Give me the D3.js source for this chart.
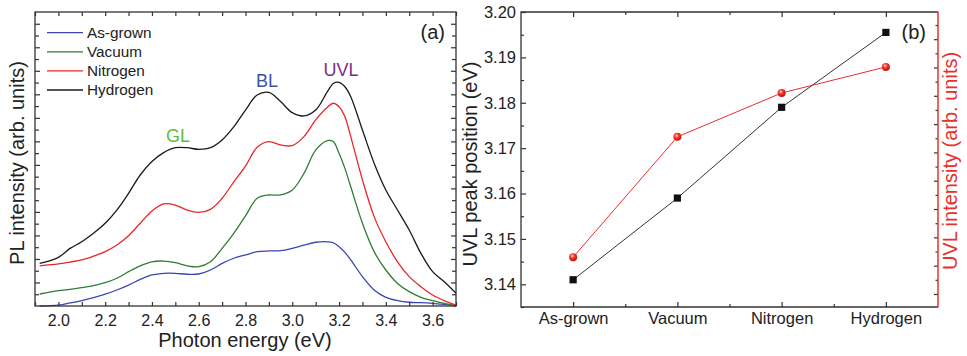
<!DOCTYPE html>
<html>
<head>
<meta charset="utf-8">
<title>PL spectra and UVL peak</title>
<style>
  body { margin: 0; background: #fff; }
  svg, svg text { font-family: "Liberation Sans", Arial, sans-serif; }
  .frame { fill: none; stroke: #333; stroke-width: 1.3px; }
  .axis path { display: none; }
  .axis line { stroke: #333; stroke-width: 1.2px; }
  .axis text { font-size: 16px; fill: #222; font-family: "Liberation Sans", Arial, sans-serif; }
  .axis.b text { font-size: 16.5px; }
  .spec { fill: none; stroke-width: 1.3px; }
</style>
</head>
<body>
<svg id="chart" width="967" height="356"></svg>
<script src="https://d3js.org/d3.v7.min.js"></script>
<script>
// ---- panel (a) data: PL spectra ----
var energy = [1.92, 2.0, 2.05, 2.1, 2.15, 2.2, 2.25, 2.3, 2.35, 2.4, 2.45, 2.5, 2.55, 2.6, 2.65, 2.7, 2.75, 2.8, 2.85, 2.9,
  2.95, 3.0, 3.05, 3.1, 3.15, 3.175, 3.2, 3.225, 3.25, 3.3, 3.35, 3.4, 3.45, 3.5, 3.55, 3.6, 3.65, 3.7];
var asGrown = [0.0, 0.04, 0.13, 0.23, 0.36, 0.50, 0.68, 0.89, 1.13, 1.32, 1.39, 1.39, 1.35, 1.36, 1.53, 1.81, 2.03, 2.17, 2.31, 2.34,
  2.35, 2.45, 2.59, 2.71, 2.73, 2.69, 2.52, 2.28, 1.96, 1.25, 0.68, 0.37, 0.23, 0.16, 0.14, 0.11, 0.07, 0.0];
var vacuum = [0.51, 0.65, 0.71, 0.78, 0.87, 0.99, 1.18, 1.46, 1.71, 1.88, 1.91, 1.84, 1.71, 1.67, 1.88, 2.45, 3.09, 3.83, 4.58, 4.72,
  4.72, 4.93, 5.64, 6.63, 7.03, 6.99, 6.49, 5.85, 5.07, 3.52, 2.31, 1.53, 0.96, 0.61, 0.37, 0.23, 0.11, 0.0];
var nitrogen = [1.71, 1.79, 1.87, 1.96, 2.12, 2.31, 2.59, 2.99, 3.52, 4.04, 4.34, 4.29, 4.08, 3.98, 4.11, 4.58, 5.28, 5.95, 6.75, 6.99,
  6.85, 6.82, 7.20, 7.91, 8.45, 8.62, 8.47, 8.05, 7.20, 5.36, 3.80, 2.73, 1.88, 1.25, 0.82, 0.47, 0.23, 0.04];
var hydrogen = [1.81, 2.07, 2.45, 2.73, 3.09, 3.52, 4.08, 4.79, 5.57, 6.14, 6.52, 6.73, 6.73, 6.66, 6.73, 7.06, 7.62, 8.33, 8.97, 9.08,
  8.69, 8.22, 8.08, 8.33, 9.11, 9.46, 9.51, 9.32, 8.90, 7.48, 6.07, 4.93, 4.08, 3.23, 2.24, 1.46, 1.03, 0.54];
var seriesNames = ["As-grown", "Vacuum", "Nitrogen", "Hydrogen"];
var seriesColors = ["#3b46b0", "#2f7d32", "#e8262b", "#1a1a1a"];
var spectra = [asGrown, vacuum, nitrogen, hydrogen];
var xTicksA = d3.range(19).map(function(i) { return +(1.9 + i * 0.1).toFixed(1); });
var yTicksA = d3.range(1, 25).map(function(i) { return i * 0.5; });

// ---- panel (b) data ----
var categories = ["As-grown", "Vacuum", "Nitrogen", "Hydrogen"];
var peakPos = [3.141, 3.159, 3.179, 3.1955];
var uvlIntensity = [2.30, 6.55, 8.10, 9.02];
var yTicksB = [3.14, 3.15, 3.16, 3.17, 3.18, 3.19, 3.20];
var yMinorB = [3.135, 3.145, 3.155, 3.165, 3.175, 3.185, 3.195];
var yTicksR = d3.range(2, 22).map(function(i) { return i * 0.5; });

var svg = d3.select("#chart");

// ================= panel (a) =================
var xA = d3.scaleLinear().domain([1.9, 3.7]).range([35, 456]);
var yA = d3.scaleLinear().domain([0, 12.5]).range([306, 12]);
var gA = svg.append("g");

var line = d3.line()
  .x(function(d) { return xA(d[0]); })
  .y(function(d) { return yA(d[1]); })
  .curve(d3.curveCatmullRom.alpha(0.5));

gA.selectAll("path.spec")
  .data(spectra)
  .enter()
  .append("path")
    .attr("class", "spec")
    .attr("stroke", function(d, i) { return seriesColors[i]; })
    .attr("d", function(d) { return line(energy.map(function(e, j) { return [e, d[j]]; })); });

// axes (ticks inward)
gA.append("g").attr("class", "axis")
  .attr("transform", "translate(0,306)")
  .call(d3.axisBottom(xA).tickValues(xTicksA).tickSize(-4).tickPadding(9)
    .tickFormat(function(d) { return (Math.round(d * 10) % 2 === 0) ? d.toFixed(1) : ""; }));
gA.append("g").attr("class", "axis")
  .attr("transform", "translate(0,12)")
  .call(d3.axisTop(xA).tickValues(xTicksA).tickSize(-4).tickFormat(""));
gA.append("g").attr("class", "axis")
  .attr("transform", "translate(35,0)")
  .call(d3.axisLeft(yA).tickValues(yTicksA).tickFormat(""))
  .selectAll("line").attr("x2", function(d) { return d % 1 === 0 ? 5 : 4; });
gA.append("g").attr("class", "axis")
  .attr("transform", "translate(456,0)")
  .call(d3.axisRight(yA).tickValues(yTicksA).tickFormat(""))
  .selectAll("line").attr("x2", function(d) { return d % 1 === 0 ? -5 : -4; });

gA.append("rect").attr("class", "frame")
  .attr("x", 35).attr("y", 12).attr("width", 421).attr("height", 294);

// legend
var leg = gA.selectAll("g.leg").data(seriesNames).enter().append("g")
  .attr("transform", function(d, i) { return "translate(0," + (32.7 + i * 19.1) + ")"; });
leg.append("line").attr("x1", 47).attr("x2", 83).attr("y1", 0).attr("y2", 0)
  .attr("stroke", function(d, i) { return seriesColors[i]; }).attr("stroke-width", 1.3);
leg.append("text").attr("x", 87).attr("y", 4.8).attr("font-size", 15.3).attr("fill", "#222")
  .text(function(d) { return d; });

// peak labels
gA.append("text").attr("x", 178).attr("y", 141.5).attr("text-anchor", "middle")
  .attr("font-size", 18).attr("fill", "#5cbf3c").text("GL");
gA.append("text").attr("x", 267).attr("y", 86.5).attr("text-anchor", "middle")
  .attr("font-size", 18).attr("fill", "#3e50a8").text("BL");
gA.append("text").attr("x", 341).attr("y", 76).attr("text-anchor", "middle")
  .attr("font-size", 18).attr("fill", "#7b2d8b").text("UVL");
gA.append("text").attr("x", 445).attr("y", 39).attr("text-anchor", "end")
  .attr("font-size", 20).attr("fill", "#222").text("(a)");

// titles
gA.append("text").attr("x", 245).attr("y", 347).attr("text-anchor", "middle")
  .attr("font-size", 20).attr("fill", "#222").text("Photon energy (eV)");
gA.append("text").attr("transform", "translate(24,163) rotate(-90)").attr("text-anchor", "middle")
  .attr("font-size", 20).attr("fill", "#222").text("PL intensity (arb. units)");

// ================= panel (b) =================
var xB = d3.scaleLinear().domain([0.5, 4.5]).range([521, 938]);
var yB = d3.scaleLinear().domain([3.135, 3.20]).range([307, 12]);
var yR = d3.scaleLinear().domain([0.54, 10.96]).range([307, 12]);
var gB = svg.append("g");
var red = "#e8302c";

gB.append("g").attr("class", "axis b")
  .attr("transform", "translate(0,307)")
  .call(d3.axisBottom(xB).tickValues([1, 2, 3, 4]).tickSize(-5).tickPadding(5)
    .tickFormat(function(d) { return categories[d - 1]; }));
gB.append("g").attr("class", "axis")
  .attr("transform", "translate(0,307)")
  .call(d3.axisBottom(xB).tickValues([1.5, 2.5, 3.5]).tickSize(-3).tickFormat(""));
gB.append("g").attr("class", "axis")
  .attr("transform", "translate(0,12)")
  .call(d3.axisTop(xB).tickValues([1, 2, 3, 4]).tickSize(-5).tickFormat(""));
gB.append("g").attr("class", "axis")
  .attr("transform", "translate(0,12)")
  .call(d3.axisTop(xB).tickValues([1.5, 2.5, 3.5]).tickSize(-3).tickFormat(""));
gB.append("g").attr("class", "axis b")
  .attr("transform", "translate(521,0)")
  .call(d3.axisLeft(yB).tickValues(yTicksB).tickSize(-5).tickPadding(5).tickFormat(d3.format(".2f")));
gB.append("g").attr("class", "axis")
  .attr("transform", "translate(521,0)")
  .call(d3.axisLeft(yB).tickValues(yMinorB).tickSize(-3).tickFormat(""));

var rAx = gB.append("g").attr("class", "axis")
  .attr("transform", "translate(938,0)")
  .call(d3.axisRight(yR).tickValues(yTicksR).tickFormat(""));
rAx.selectAll("line").attr("stroke", red)
  .attr("x2", function(d) { return d % 1 === 0 ? -4 : -2.5; });

gB.append("path").attr("fill", "none").attr("stroke", "#333").attr("stroke-width", 1.3)
  .attr("d", "M938,12H521V307H938");
gB.append("line").attr("x1", 938).attr("x2", 938).attr("y1", 11.4).attr("y2", 307.6)
  .attr("stroke", red).attr("stroke-width", 1.5);

// lines
var lineB = d3.line().x(function(d, i) { return xB(i + 1); }).y(function(d) { return yB(d); });
var lineR = d3.line().x(function(d, i) { return xB(i + 1); }).y(function(d) { return yR(d); });
gB.append("path").attr("d", lineB(peakPos)).attr("fill", "none").attr("stroke", "#333").attr("stroke-width", 1);
gB.append("path").attr("d", lineR(uvlIntensity)).attr("fill", "none").attr("stroke", red).attr("stroke-width", 1);

var grad = svg.append("defs").append("radialGradient").attr("id", "ball")
  .attr("cx", "40%").attr("cy", "35%").attr("r", "60%");
grad.append("stop").attr("offset", "0%").attr("stop-color", "#ffd0cc");
grad.append("stop").attr("offset", "45%").attr("stop-color", "#f03a30");
grad.append("stop").attr("offset", "100%").attr("stop-color", "#c8140f");

gB.selectAll("rect.sq").data(peakPos).enter().append("rect")
  .attr("x", function(d, i) { return xB(i + 1) - 3.6; })
  .attr("y", function(d) { return yB(d) - 3.6; })
  .attr("width", 7.2).attr("height", 7.2).attr("fill", "#111");
gB.selectAll("circle.ball").data(uvlIntensity).enter().append("circle")
  .attr("cx", function(d, i) { return xB(i + 1); })
  .attr("cy", function(d) { return yR(d); })
  .attr("r", 4).attr("fill", "url(#ball)");

gB.append("text").attr("x", 926).attr("y", 38.5).attr("text-anchor", "end")
  .attr("font-size", 20).attr("fill", "#222").text("(b)");

gB.append("text").attr("transform", "translate(477,164) rotate(-90)").attr("text-anchor", "middle")
  .attr("font-size", 20).attr("fill", "#222").text("UVL peak position (eV)");
gB.append("text").attr("transform", "translate(957,161) rotate(-90)").attr("text-anchor", "middle")
  .attr("font-size", 20).attr("fill", red).text("UVL intensity (arb. units)");
</script>
</body>
</html>
